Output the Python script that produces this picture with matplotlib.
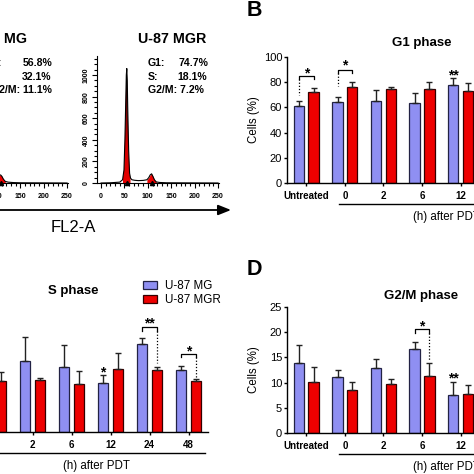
import numpy as np
import matplotlib
matplotlib.use('Agg')
import matplotlib.pyplot as plt
from matplotlib.colors import LinearSegmentedColormap
from matplotlib.patches import Polygon
from matplotlib.ticker import MultipleLocator

plt.rcParams['font.family'] = ['Liberation Sans', 'DejaVu Sans']

W = 474.0
BLUE = '#8f8ff2'
RED = '#ee0000'
BW = 0.27
OFF = 0.19

# ---- data ----
groups = ['Untreated', '0', '2', '6', '12', '24', '48']

g1_mg = [61.1, 64.5, 65.0, 63.2, 77.8, 64.1, 71.2]
g1_mg_err = [4.2, 4.0, 8.8, 8.5, 5.3, 3.0, 2.5]
g1_mgr = [72.5, 75.9, 74.3, 74.3, 73.0, 72.0, 75.0]
g1_mgr_err = [2.6, 4.0, 1.6, 5.6, 6.6, 2.0, 2.0]

s_mg = [25.2, 24.3, 22.6, 20.7, 15.5, 27.9, 19.8]
s_mg_err = [3.0, 3.0, 7.6, 6.9, 2.6, 1.9, 1.1]
s_mgr = [17.4, 16.2, 16.5, 15.2, 20.0, 19.7, 16.3]
s_mgr_err = [1.0, 2.8, 0.6, 4.2, 5.0, 1.0, 0.5]

g2m_mg = [13.8, 11.2, 12.8, 16.6, 7.5, 8.0, 9.0]
g2m_mg_err = [3.7, 1.3, 1.9, 1.4, 2.7, 1.5, 1.2]
g2m_mgr = [10.1, 8.5, 9.7, 11.3, 7.7, 8.3, 8.7]
g2m_mgr_err = [2.9, 1.6, 1.1, 2.5, 1.8, 1.0, 1.1]

# flow cytometry histograms (FL2-A channel, counts)
mg_ch = [0, 40, 46, 50, 53, 55, 57, 60, 64, 70, 80, 90, 98, 104, 108, 111, 114, 118, 124, 135, 150, 250]
mg_cnt = [0, 5, 40, 300, 650, 720, 550, 200, 80, 55, 50, 50, 55, 70, 75, 60, 35, 15, 8, 4, 2, 0]
mgr_ch = [0, 20, 40, 46, 49, 51, 53, 54, 55, 56, 57, 59, 61, 63, 66, 72, 80, 90, 98, 102, 105, 108, 111, 114, 118, 125, 140, 250]
mgr_cnt = [0, 2, 8, 30, 120, 400, 800, 1000, 1060, 950, 700, 300, 90, 45, 30, 25, 22, 24, 30, 50, 75, 85, 60, 30, 10, 5, 2, 0]

fig = plt.figure(figsize=(4.74, 4.74), dpi=100)


def box(x0, ybot, w, h):
    return [x0 / W, 1 - ybot / W, w / W, h / W]


def bar_panel(rect, mg, mg_err, mgr, mgr_err, ymax, ystep):
    ax = fig.add_axes(rect)
    x = np.arange(len(groups))
    z = np.zeros(len(groups))
    ek = dict(ecolor='#222222', elinewidth=1.0, capsize=2.2, capthick=1.0)
    ax.bar(x - OFF, mg, BW, yerr=[z, mg_err], color=BLUE, edgecolor='#222244',
           linewidth=0.9, error_kw=ek, label='U-87 MG')
    ax.bar(x + OFF, mgr, BW, yerr=[z, mgr_err], color=RED, edgecolor='#330000',
           linewidth=0.9, error_kw=ek, label='U-87 MGR')
    ax.set_xlim(-0.5, len(groups) - 0.5)
    ax.set_ylim(0, ymax)
    ax.set_yticks(np.arange(0, ymax + 0.01, ystep))
    ax.set_xticks(x)
    ax.set_xticklabels(groups, fontweight='bold', fontsize=7)
    for s in ['top', 'right']:
        ax.spines[s].set_visible(False)
    for s in ['left', 'bottom']:
        ax.spines[s].set_linewidth(1.0)
    ax.tick_params(axis='y', labelsize=8, length=2.5, width=1, pad=1)
    ax.tick_params(axis='x', length=2.5, width=1, pad=3)
    tr = ax.get_xaxis_transform()
    ax.plot([0.85, 6.42], [-21 / 126, -21 / 126], transform=tr, color='k', lw=1.0, clip_on=False)
    ax.text(3.63, -34 / 126, '(h) after PDT', transform=tr, ha='center', va='center', fontsize=8.3)
    ax.set_ylabel('Cells (%)', fontsize=8.3)
    ax.yaxis.set_label_coords(-0.1, 0.5)
    return ax


def star(ax, x, y, mark):
    ax.annotate(mark, xy=(x, y), xytext=(0, -5.6), textcoords='offset points',
                ha='center', va='baseline', fontsize=10, fontweight='bold')


def sig(ax, i, h, drop, mark, ystar, side, dot_to):
    xl, xr = i - OFF, i + OFF
    ax.plot([xl, xl, xr, xr], [h - drop, h, h, h - drop], color='k', lw=0.9)
    star(ax, i, ystar, mark)
    xd = xl if side == 'l' else xr
    ax.plot([xd, xd], [h - drop, dot_to], color='k', lw=0.9, ls=(0, (1, 1.5)))


def hist_panel(left_px, ch, cnt):
    ax = fig.add_axes(box(left_px, 183, 260 * 0.468, 127.4))
    ch = np.array(ch, float)
    cnt = np.array(cnt, float)
    g2 = (ch >= 98) & (ch <= 118)
    ax.fill_between(ch[g2], cnt[g2], color=RED, lw=0, zorder=2)
    g1 = (ch >= 46) & (ch <= 64)
    verts = list(zip(ch[g1], cnt[g1])) + [(ch[g1][-1], 0), (ch[g1][0], 0)]
    patch = Polygon(verts, closed=True, facecolor='none', edgecolor='none')
    ax.add_patch(patch)
    cmap = LinearSegmentedColormap.from_list('rk', [(0, '#e80000'), (0.35, '#d00000'), (1, '#000000')])
    grad = np.linspace(0, 1, 256).reshape(-1, 1)
    im = ax.imshow(grad, extent=[46, 64, 0, cnt.max()], origin='lower', aspect='auto',
                   cmap=cmap, zorder=2)
    im.set_clip_path(patch)
    ax.plot(ch, cnt, color='k', lw=0.8, zorder=3)
    ax.plot([55, 108], [0, 0], ls='none', marker='^', ms=3, color='k', clip_on=False, zorder=4)
    ax.set_xlim(-8, 252)
    ax.set_ylim(0, 1180)
    ax.set_xticks(np.arange(0, 251, 50))
    ax.set_yticks(np.arange(0, 1001, 200))
    ax.xaxis.set_minor_locator(MultipleLocator(10))
    ax.yaxis.set_minor_locator(MultipleLocator(50))
    for s in ['top', 'right']:
        ax.spines[s].set_visible(False)
    ax.tick_params(which='both', direction='out', width=0.8, labelsize=5)
    ax.tick_params(which='major', length=3.5)
    ax.tick_params(which='minor', length=2)
    ax.tick_params(axis='y', labelrotation=90, pad=2)
    for lab in ax.get_xticklabels():
        lab.set_fontweight('bold')
    for lab in ax.get_yticklabels():
        lab.set_fontweight('bold')
        lab.set_va('center')
    return ax


# ---- panel A: histograms ----
hist_panel(-53.7, mg_ch, mg_cnt)
hist_panel(97.3, mgr_ch, mgr_cnt)

# ---- panels B, C, D ----
ax_b = bar_panel(box(287, 183, 270, 126), g1_mg, g1_mg_err, g1_mgr, g1_mgr_err, 100, 20)
sig(ax_b, 0, 85.2, 2.9, '*', 90.0, 'l', 70)
sig(ax_b, 1, 89.7, 2.2, '*', 96.0, 'l', 77)
star(ax_b, 4 - OFF, 88.3, '**')

ax_c = bar_panel(box(-65, 432, 273, 126), s_mg, s_mg_err, s_mgr, s_mgr_err, 40, 10)
star(ax_c, 4 - OFF, 20.2, '*')
sig(ax_c, 5, 33.2, 1.0, '**', 35.6, 'r', 22.0)
sig(ax_c, 6, 24.8, 0.9, '*', 26.9, 'r', 17.6)
ax_c.legend(loc='upper left', bbox_to_anchor=(143 / W, 1 - 280 / W), bbox_transform=fig.transFigure,
            frameon=False, fontsize=8.4, handlelength=1.2, handleheight=0.7,
            handletextpad=0.7, labelspacing=0.15, borderpad=0, borderaxespad=0)

ax_d = bar_panel(box(287, 433, 270, 126), g2m_mg, g2m_mg_err, g2m_mgr, g2m_mgr_err, 25, 5)
sig(ax_d, 3, 20.6, 0.8, '*', 21.8, 'r', 14.5)
star(ax_d, 4 - OFF, 11.5, '**')

# ---- overlay for labels ----
ov = fig.add_axes([0, 0, 1, 1], facecolor='none')
ov.set_xlim(0, W)
ov.set_ylim(W, 0)
ov.axis('off')

ov.text(247, 10.5, 'B', fontsize=15.5, fontweight='bold', ha='left', va='center')
ov.text(247, 269.5, 'D', fontsize=15.5, fontweight='bold', ha='left', va='center')
ov.text(422, 43, 'G1 phase', fontsize=9.5, fontweight='bold', ha='center', va='center')
ov.text(421, 296, 'G2/M phase', fontsize=9.5, fontweight='bold', ha='center', va='center')
ov.text(73, 291, 'S phase', fontsize=9.5, fontweight='bold', ha='center', va='center')

ov.text(172, 39, 'U-87 MGR', fontsize=10.3, fontweight='bold', ha='center', va='center')
ov.text(27, 39, 'U-87 MG', fontsize=10.3, fontweight='bold', ha='right', va='center')

st = dict(fontsize=7.6, fontweight='bold', va='center')
ov.text(148, 63, 'G1:', ha='left', **st)
ov.text(208, 63, '74.7%', ha='right', **st)
ov.text(148, 77, 'S:', ha='left', **st)
ov.text(207, 77, '18.1%', ha='right', **st)
ov.text(148, 90, 'G2/M: 7.2%', ha='left', **st)
ov.text(-15, 63, 'G1:', ha='left', **st)
ov.text(52, 63, '56.8%', ha='right', **st)
ov.text(-15, 77, 'S:', ha='left', **st)
ov.text(51, 77, '32.1%', ha='right', **st)
ov.text(52, 90, 'G2/M: 11.1%', ha='right', **st)

ov.annotate('', xy=(231, 210), xytext=(-3, 210),
            arrowprops=dict(arrowstyle='-|>,head_length=0.55,head_width=0.22', lw=1.3,
                            color='black', mutation_scale=14, shrinkA=0, shrinkB=0))
ov.text(73, 227, 'FL2-A', fontsize=12, ha='center', va='center')

fig.savefig('out.png', dpi=100)
